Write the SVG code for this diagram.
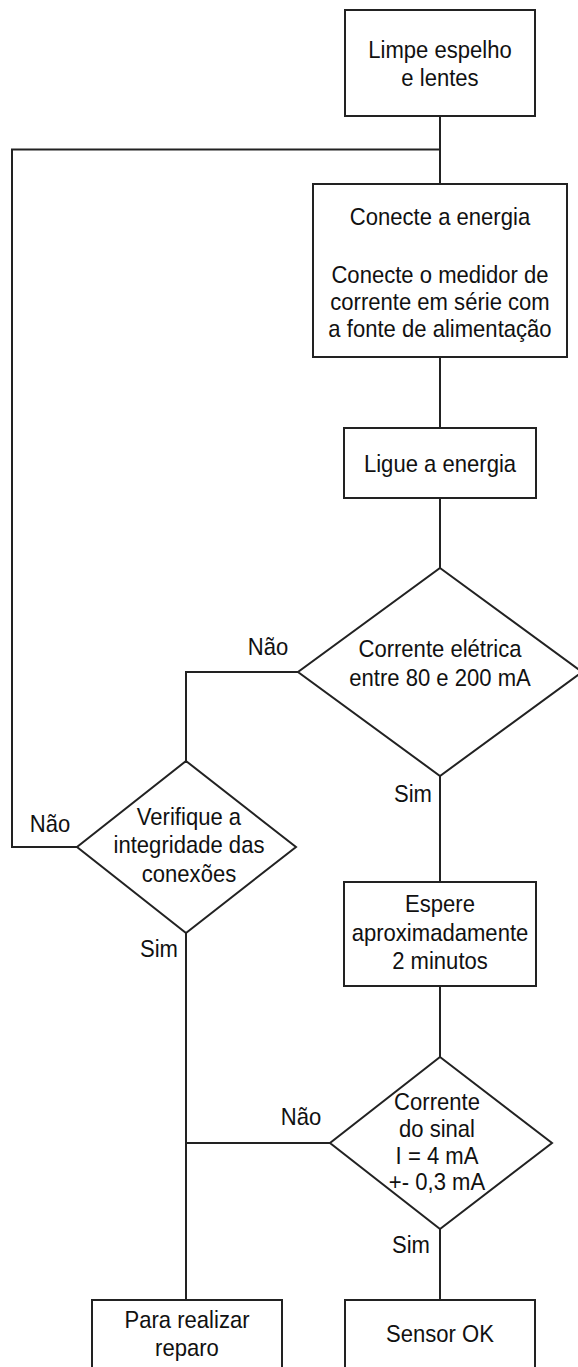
<svg xmlns="http://www.w3.org/2000/svg" width="578" height="1367" viewBox="0 0 578 1367">
<style>
.shape{fill:#fff;stroke:#222;stroke-width:2;}
.conn{fill:none;stroke:#222;stroke-width:2;}
text{font-family:"Liberation Sans",Arial,sans-serif;font-size:24px;fill:#111;text-anchor:middle;transform-box:fill-box;transform-origin:center;transform:scaleX(0.92);}
</style>
<rect x="0" y="0" width="578" height="1367" fill="#fff"/>
<g id="connectors">
<polyline class="conn" points="440,116 440,184"/>
<polyline class="conn" points="440,149.5 12,149.5 12,847 77,847"/>
<polyline class="conn" points="440,357 440,428"/>
<polyline class="conn" points="440,498 440,568"/>
<polyline class="conn" points="298,672 186,672 186,761"/>
<polyline class="conn" points="440,776 440,882"/>
<polyline class="conn" points="186,933 186,1300"/>
<polyline class="conn" points="440,986 440,1057"/>
<polyline class="conn" points="330,1143 186,1143"/>
<polyline class="conn" points="440,1229 440,1300"/>
<text x="268" y="655">Não</text>
<text x="413" y="802">Sim</text>
<text x="50" y="832">Não</text>
<text x="159" y="957">Sim</text>
<text x="301" y="1125">Não</text>
<text x="411" y="1253">Sim</text>
</g>
<g id="limpe">
<rect class="shape" x="345" y="10" width="190" height="106"/>
<text x="440" y="58">Limpe espelho</text>
<text x="440" y="86">e lentes</text>
</g>
<g id="conecte">
<rect class="shape" x="313" y="184" width="254" height="173"/>
<text x="440" y="225">Conecte a energia</text>
<text x="440" y="283">Conecte o medidor de</text>
<text x="440" y="310">corrente em série com</text>
<text x="440" y="337">a fonte de alimentação</text>
</g>
<g id="ligue">
<rect class="shape" x="344" y="428" width="192" height="70"/>
<text x="440" y="472">Ligue a energia</text>
</g>
<g id="decisao-corrente">
<polygon class="shape" points="440,568 582,672 440,776 298,672"/>
<text x="440" y="657">Corrente elétrica</text>
<text x="440" y="686">entre 80 e 200 mA</text>
</g>
<g id="verifique">
<polygon class="shape" points="186,761 296,847 186,933 77,847"/>
<text x="189" y="825">Verifique a</text>
<text x="189" y="853">integridade das</text>
<text x="189" y="882">conexões</text>
</g>
<g id="espere">
<rect class="shape" x="344" y="882" width="192" height="104"/>
<text x="440" y="912">Espere</text>
<text x="440" y="941">aproximadamente</text>
<text x="440" y="969">2 minutos</text>
</g>
<g id="decisao-sinal">
<polygon class="shape" points="440,1057 552,1143 440,1229 330,1143"/>
<text x="437" y="1110">Corrente</text>
<text x="437" y="1137">do sinal</text>
<text x="437" y="1164">I = 4 mA</text>
<text x="437" y="1190">+- 0,3 mA</text>
</g>
<g id="reparo">
<rect class="shape" x="92" y="1300" width="190" height="90"/>
<text x="187" y="1328">Para realizar</text>
<text x="187" y="1356">reparo</text>
</g>
<g id="sensor-ok">
<rect class="shape" x="345" y="1300" width="190" height="90"/>
<text x="440" y="1342">Sensor OK</text>
</g>
</svg>
